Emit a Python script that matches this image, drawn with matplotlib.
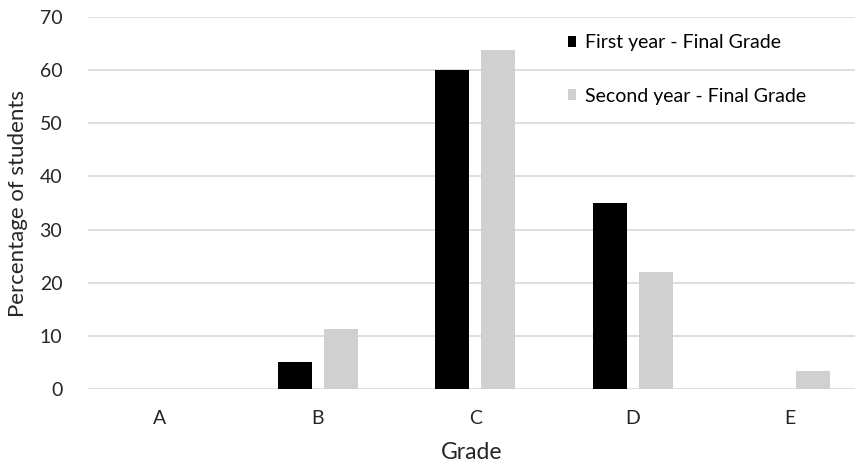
import numpy as np
import matplotlib
matplotlib.use("Agg")
import matplotlib.pyplot as plt

# Data
grades = ["A", "B", "C", "D", "E"]
first_year = [0, 5, 60, 35, 0]
second_year = [0, 11.3, 63.8, 22, 3.4]
series_names = ["First year - Final Grade", "Second year - Final Grade"]
y_ticks = [0, 10, 20, 30, 40, 50, 60, 70]

plt.rcParams['font.family'] = ['Lato', 'DejaVu Sans']

fig = plt.figure(figsize=(8.66, 4.66), dpi=100)
ax = fig.add_axes([0.1016, 0.1652, 0.8854, 0.7983])

x = np.arange(len(grades))
w = 0.216
off = 0.146
ax.bar(x - off, first_year, w, color="black", label=series_names[0], zorder=3)
ax.bar(x + off, second_year, w, color="#d0d0d0", label=series_names[1], zorder=3)

ax.set_xlim(-0.457, 4.41)
ax.set_ylim(0, 70)
ax.set_yticks(y_ticks)
ax.set_xticks(x)
ax.set_xticklabels(grades)
ax.yaxis.grid(True, color="#d9d9d9", linewidth=1.2, zorder=0)
ax.set_axisbelow(True)
for s in ax.spines.values():
    s.set_visible(False)
ax.tick_params(axis="both", length=0, labelsize=14, colors="#262626")
ax.tick_params(axis="y", pad=18.5)
ax.tick_params(axis="x", pad=14.8)

ax.set_xlabel("Grade", fontsize=16.5, color="#262626", labelpad=11)
ax.set_ylabel("Percentage of students", fontsize=16, color="#262626", labelpad=8)

ax.legend(loc="upper left", bbox_to_anchor=(0.626, 0.953), frameon=False,
          fontsize=14, handlelength=0.42, handleheight=0.5, handletextpad=0.45,
          labelspacing=1.86, borderpad=0, borderaxespad=0)

fig.savefig("out.png", dpi=100, facecolor="white")
